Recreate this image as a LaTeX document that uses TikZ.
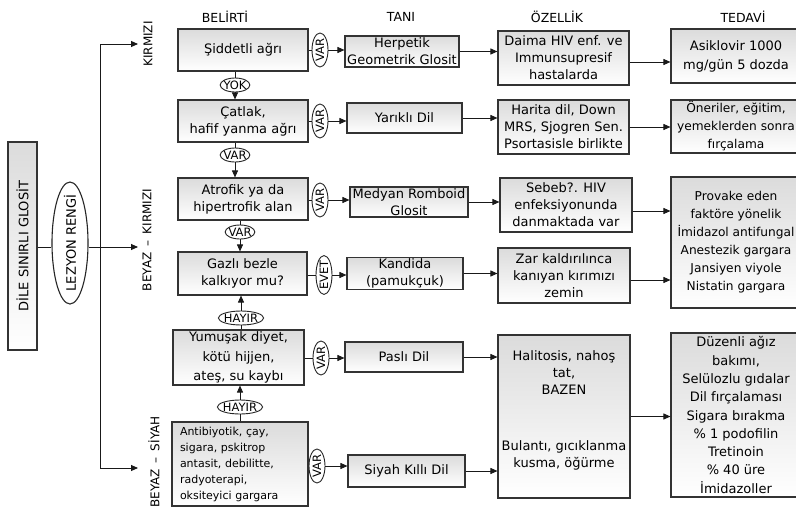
\documentclass[tikz,border=0pt]{standalone}
\usepackage{fontspec}
\setmainfont{DejaVu Sans}
\usepackage{graphicx}
\usetikzlibrary{arrows.meta,shapes.geometric}

\tikzset{
  box/.style={draw=black!80, line width=1.1pt, top color=black!14, bottom color=white,
    align=center, inner sep=1pt, font=\fontsize{13}{17}\selectfont},
  tag/.style={draw=black!85, line width=0.9pt, ellipse, fill=white,
    inner xsep=-1pt, inner ysep=0.5pt, minimum height=14pt, font=\fontsize{11.5}{13}\selectfont},
  vtag/.style={tag, inner xsep=0.5pt, inner ysep=-1pt, minimum width=16pt, minimum height=34pt},
  arr/.style={-{Triangle[length=7pt,width=6pt]}, line width=0.9pt, black!90},
  link/.style={line width=0.9pt, black!90},
  head/.style={font=\fontsize{12.5}{14}\selectfont},
  side/.style={font=\fontsize{12}{14}\selectfont, rotate=90},
  plain/.style={align=center, inner sep=0pt, font=\fontsize{13}{17}\selectfont}
}

\begin{document}
\begin{tikzpicture}[x=1pt,y=-1pt]
\useasboundingbox (0,0) rectangle (796,509);
\fill[white] (0,0) rectangle (796,509);

% column headings
\node[head] (hd1) at (225,17) {BELİRTİ};
\node[head] (hd2) at (401,17) {TANI};
\node[head] (hd3) at (557,17) {ÖZELLİK};
\node[head] (hd4) at (743,17) {TEDAVİ};

% root and lesion colour
\node[box, minimum width=29, minimum height=208, inner sep=0pt] (Lbox) at (22.5,246)
  {\rotatebox{90}{DİLE SINIRLI GLOSİT}};
\node[draw=black!85, line width=1.1pt, ellipse, inner xsep=0pt, inner ysep=-15pt,
  minimum width=36, minimum height=122, font=\fontsize{13}{15}\selectfont] (lez) at (70,243)
  {\rotatebox{90}{LEZYON RENGİ}};

% colour groups
\node[side] (gA) at (148,44) {KIRMIZI};
\node[side] (gB) at (147,240) {BEYAZ\hspace{6pt}–\hspace{6pt}KIRMIZI};
\node[side] (gC) at (154,462) {BEYAZ\hspace{6pt}–\hspace{6pt}SİYAH};

\coordinate (tA) at (138,44);
\coordinate (tB) at (138,247);
\coordinate (tC) at (138,468);
\coordinate (trunk) at (100,0);

\draw[link] (Lbox.east |- tB) -- (lez.west |- tB);
\draw[arr] (lez.east |- tB) -- (tB);
\draw[link] (trunk |- tA) -- (trunk |- tC);
\draw[arr] (trunk |- tA) -- (tA);
\draw[arr] (trunk |- tC) -- (tC);

% symptoms
\node[box, minimum width=130, minimum height=42] (s1) at (243,50) {Şiddetli ağrı};
\node[box, minimum width=130, minimum height=42] (s2) at (243,121) {Çatlak,\\hafif yanma ağrı};
\node[box, minimum width=130, minimum height=42] (s3) at (243,199) {Atrofik ya da\\hipertrofik alan};
\node[box, minimum width=129, minimum height=43] (s4) at (242.5,273.5) {Gazlı bezle\\kalkıyor mu?};
\node[box, minimum width=131, minimum height=55, font=\fontsize{13}{19.5}\selectfont] (s5) at (238.5,357.5)
  {Yumuşak diyet,\\kötü hijjen,\\ateş, su kaybı};
\node[box, minimum width=136, minimum height=84, text width=120, inner xsep=8pt, align=left,
  font=\fontsize{11}{16}\selectfont] (s6) at (240,464)
  {Antibiyotik, çay,\\sigara, pskitrop\\antasit, debilitte,\\radyoterapi,\\oksiteyici gargara};

% answers between symptoms
\node[tag] (e1) at (235,85) {YOK};
\node[tag] (e2) at (235,155) {VAR};
\node[tag] (e3) at (240,232) {VAR};
\node[tag] (e4) at (241,318) {HAYIR};
\node[tag] (e5) at (240,407) {HAYIR};

\draw[link] (s1.south -| e1) -- (e1.north);
\draw[arr] (e1.south) -- (s2.north -| e1);
\draw[link] (s2.south -| e2) -- (e2.north);
\draw[arr] (e2.south) -- (s3.north -| e2);
\draw[link] (s3.south -| e3) -- (e3.north);
\draw[arr] (e3.south) -- (s4.north -| e3);
\draw[link] (s5.north -| e4) -- (e4.south);
\draw[arr] (e4.north) -- (s4.south -| e4);
\draw[link] (s6.north -| e5) -- (e5.south);
\draw[arr] (e5.north) -- (s5.south -| e5);

% answers towards diagnosis
\node[vtag] (v1) at (320,50) {\rotatebox{90}{VAR}};
\node[vtag] (v2) at (320,121) {\rotatebox{90}{VAR}};
\node[vtag] (v3) at (320,200) {\rotatebox{90}{VAR}};
\node[vtag] (v4) at (324,275) {\rotatebox{90}{EVET}};
\node[vtag] (v5) at (321,358) {\rotatebox{90}{VAR}};
\node[vtag] (v6) at (317,466) {\rotatebox{90}{VAR}};

% diagnosis
\node[box, minimum width=114, minimum height=31] (t1) at (402,51.5) {Herpetik\\Geometrik Glosit};
\node[box, minimum width=115, minimum height=30] (t2) at (404.5,118) {Yarıklı Dil};
\node[box, minimum width=118, minimum height=30] (t3) at (409,202) {Medyan Romboid\\Glosit};
\node[box, minimum width=116, minimum height=31] (t4) at (405,273.5) {Kandida\\(pamukçuk)};
\node[box, minimum width=118, minimum height=30] (t5) at (404,357) {Paslı Dil};
\node[box, minimum width=117, minimum height=32] (t6) at (406.5,471) {Siyah Kıllı Dil};

\foreach \i in {1,...,6}{
  \draw[link] (v\i.west -| s\i.east) -- (v\i.west);
  \draw[arr] (v\i.east) -- (v\i.east -| t\i.west);
}

% features
\node[box, minimum width=131, minimum height=54] (o1) at (563.5,58) {Daima HIV enf. ve\\Immunsupresif\\hastalarda};
\node[box, minimum width=131, minimum height=54] (o2) at (563.5,127) {Harita dil, Down\\MRS, Sjogren Sen.\\Psortasisle birlikte};
\node[box, minimum width=132, minimum height=54] (o3) at (566,205) {Sebeb?. HIV\\enfeksiyonunda\\danmaktada var};
\node[box, minimum width=132, minimum height=55] (o4) at (564,275.5) {Zar kaldırılınca\\kanıyan kırımızı\\zemin};
\node[box, minimum width=132, minimum height=163] (o5) at (564,416.5) {};
\node[plain] (o5a) at (564,373) {Halitosis, nahoş\\tat,\\BAZEN};
\node[plain] (o5b) at (564,455) {Bulantı, gıcıklanma\\kusma, öğürme};

\draw[arr] (t1.east) -- (t1.east -| o1.west);
\draw[arr] (t2.east) -- (t2.east -| o2.west);
\draw[arr] (t3.east) -- (t3.east -| o3.west);
\draw[arr] (t4.east) -- (t4.east -| o4.west);
\draw[arr] (t5.east) -- (t5.east -| o5.west);
\draw[arr] (t6.east) -- (t6.east -| o5.west);

% treatment
\node[box, minimum width=130, minimum height=54, font=\fontsize{13}{19}\selectfont] (d1) at (736,56) {Asiklovir 1000\\mg/gün 5 dozda};
\node[box, minimum width=130, minimum height=53, font=\fontsize{12.2}{18}\selectfont] (d2) at (736,126.5) {Öneriler, eğitim,\\yemeklerden sonra\\fırçalama};
\node[box, minimum width=130, minimum height=131, font=\fontsize{12.2}{18}\selectfont] (d3) at (736,242.5)
  {Provake eden\\faktöre yönelik\\İmidazol antifungal\\Anestezik gargara\\Jansiyen viyole\\Nistatin gargara};
\node[box, minimum width=130, minimum height=164, font=\fontsize{13}{18.3}\selectfont] (d4) at (736,415)
  {Düzenli ağız\\bakımı,\\Selülozlu gıdalar\\Dil fırçalaması\\Sigara bırakma\\\% 1 podofilin\\Tretinoin\\\% 40 üre\\İmidazoller};

\draw[arr] ([yshift=-4pt]o1.east) -- ([yshift=-4pt]o1.east -| d1.west);
\draw[arr] (o2.east) -- (o2.east -| d2.west);
\draw[arr] ([yshift=-6pt]o3.east) -- ([yshift=-6pt]o3.east -| d3.west);
\draw[arr] ([yshift=-4.5pt]o4.east) -- ([yshift=-4.5pt]o4.east -| d3.west);
\draw[arr] (o5.east) -- (o5.east -| d4.west);
\end{tikzpicture}
\end{document}
